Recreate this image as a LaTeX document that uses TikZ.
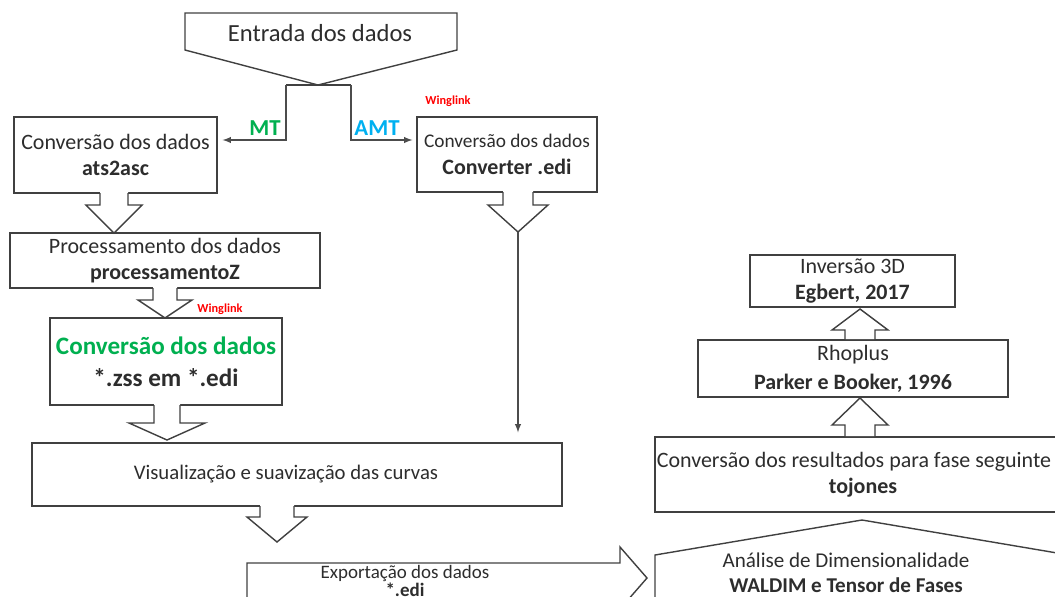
\documentclass[tikz,border=0pt]{standalone}
\usepackage{fontspec}
\setmainfont{Carlito}
\usepackage{pgf,tikz}
\usetikzlibrary{arrows, calc}

\definecolor{mtgreen}{RGB}{0,176,80}
\definecolor{amtblue}{RGB}{0,176,240}
\definecolor{wlred}{RGB}{255,0,0}
\definecolor{txtgray}{RGB}{45,45,45}

\tikzset{
    box/.style={draw=black!75, line width=0.8pt, fill=white, align=center, inner sep=0pt,
        text=txtgray, font=\fontsize{12.5}{15}\selectfont},
    plain/.style={align=center, inner sep=0pt, text=txtgray, font=\fontsize{12.5}{15}\selectfont},
    shapeline/.style={draw=black!75, line width=0.8pt},
    conn/.style={draw=black!70, line width=0.6pt},
    flowlabel/.style={inner sep=0pt, font=\fontsize{13}{13}\selectfont\bfseries},
    winglabel/.style={inner sep=0pt, text=wlred, font=\fontsize{7}{7}\selectfont\bfseries}
}

\begin{document}
\begin{tikzpicture}[x=0.02cm, y=-0.02cm]
        \useasboundingbox (0,0) rectangle (1055,596);
        \clip (0,0) rectangle (1055,596);

        % entrada
        \draw[shapeline] (185,13) -- (457,13) -- (457,50) -- (318,85) -- (185,50) -- cycle;
        \node[plain, font=\fontsize{14}{16}\selectfont] (entr) at (320,33) {Entrada dos dados};

        % caixas
        \node[box, minimum width=4.06cm, minimum height=1.52cm] (ats) at (115.5,155)
            {Conversão dos dados\\\textbf{ats2asc}};
        \node[box, minimum width=3.60cm, minimum height=1.50cm] (conv) at (507,154.5)
            {{\fontsize{11}{15}\selectfont Conversão dos dados}\\\textbf{Converter .edi}};
        \node[box, minimum width=6.20cm, minimum height=1.10cm] (proc) at (165,260.5)
            {Processamento dos dados\\\textbf{processamentoZ}};
        \node[box, minimum width=4.64cm, minimum height=1.74cm, font=\fontsize{14.3}{18}\selectfont] (zss) at (166,361.5)
            {\textcolor{mtgreen}{\textbf{Conversão dos dados}}\\\textbf{*.zss em *.edi}};
        \node[box, minimum width=10.60cm, minimum height=1.26cm, font=\fontsize{11.8}{15}\selectfont] (vis) at (297,474.5)
            {\hspace*{-0.44cm}Visualização e suavização das curvas};
        \node[box, minimum width=4.10cm, minimum height=1.04cm] (inv) at (852.5,281)
            {Inversão 3D\\\textbf{Egbert, 2017}};
        \node[box, minimum width=6.20cm, minimum height=1.14cm, font=\fontsize{12.5}{16.5}\selectfont] (rho) at (853,368.5)
            {Rhoplus\\\textbf{Parker e Booker, 1996}};
        \node[box, minimum width=8.32cm, minimum height=1.50cm, font=\fontsize{12.5}{13.5}\selectfont] (res) at (863,474.5)
            {\hspace*{-0.36cm}Conversão dos resultados para fase seguinte\\[1pt]\textbf{tojones}};

        % exportacao e analise
        \draw[shapeline] (247,600) -- (247,563) -- (620,563) -- (620,547) -- (647,578) -- (620,609);
        \node[plain, anchor=south, font=\fontsize{10.8}{10}\selectfont] (exp) at (405,597)
            {Exportação dos dados\\\textbf{*.edi}};
        \draw[shapeline] (655,600) -- (655,555) -- (862,520) -- (1069,555) -- (1069,600);
        \node[plain, font=\fontsize{12}{14}\selectfont] (ana) at (846,573)
            {Análise de Dimensionalidade\\\textbf{WALDIM e Tensor de Fases}};

        % setas de bloco
        \foreach \x/\ya/\yb/\yc/\s/\h in {114/193/205/233/14/28, 165/288/300/318/12/27,
                167/405/423/440/13/38, 518/192/205/232/15/30, 277/506/517/542/17/30,
                860/340/330/309/15/28, 860/437/425/398/15/28} {
            \fill[white] (\x-\s,\ya-1) -- (\x-\s,\yb) -- (\x-\h,\yb) -- (\x,\yc)
                -- (\x+\h,\yb) -- (\x+\s,\yb) -- (\x+\s,\ya-1) -- cycle;
            \draw[shapeline] (\x-\s,\ya) -- (\x-\s,\yb) -- (\x-\h,\yb) -- (\x,\yc)
                -- (\x+\h,\yb) -- (\x+\s,\yb) -- (\x+\s,\ya);
        }

        % MT / AMT
        \coordinate (sl) at (286,85);
        \coordinate (sr) at (351,85);
        \coordinate (mt) at (286,140);
        \coordinate (amt) at (351,140);
        \draw[shapeline] (sl) -- (sr);
        \draw[conn, -latex, shorten >=0.1cm] (sl) -- (mt) -- (mt -| ats.east);
        \draw[conn, -latex, shorten >=0.08cm] (sr) -- (amt) -- (amt -| conv.west);
        \node[flowlabel, text=mtgreen] (mtlabel) at (265,128) {MT};
        \node[flowlabel, text=amtblue] (amtlabel) at (377,128) {AMT};

        \node[winglabel] (wl1) at (448,101) {Winglink};
        \node[winglabel] (wl2) at (220,309) {Winglink};

        % linha do converter
        \coordinate (convtip) at (518,232);
        \draw[conn, -latex, shorten >=0.2cm] (convtip) -- (convtip |- vis.north);
    \end{tikzpicture}
\end{document}
